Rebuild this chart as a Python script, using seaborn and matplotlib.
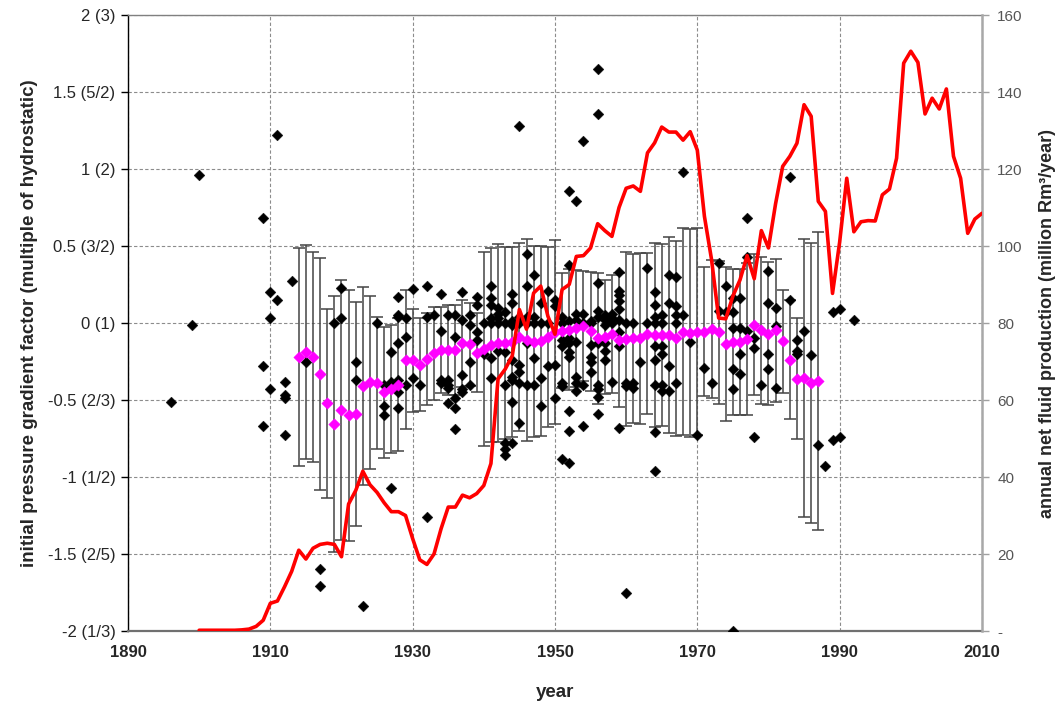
import numpy as np
import pandas as pd
import matplotlib
matplotlib.use("Agg")
import matplotlib.pyplot as plt
import seaborn as sns

# ---------------- data ----------------
prod_years = list(range(1900, 2011))
prod_values = [0.2, 0.2, 0.2, 0.2, 0.2, 0.2, 0.3, 0.5, 1.2, 2.8,
               7.2, 7.8, 11.5, 15.5, 21.0, 18.7, 21.5, 22.5, 22.8, 22.5,
               19.3, 33.0, 36.5, 41.5, 38.0, 36.0, 33.3, 31.0, 31.0, 30.0,
               24.0, 18.5, 17.3, 20.0, 26.6, 32.2, 32.2, 35.3, 34.6, 35.7,
               37.8, 43.5, 65.5, 68.0, 71.5, 83.5, 78.4, 87.8, 89.6, 81.8,
               77.1, 88.7, 90.0, 97.3, 97.5, 99.5, 105.8, 104.0, 102.5, 110.0,
               115.0, 115.6, 114.2, 124.2, 126.8, 130.9, 129.6, 129.6, 127.5, 129.7,
               124.9, 107.7, 96.5, 81.3, 81.1, 87.0, 91.2, 97.5, 91.5, 104.0,
               99.5, 111.0, 120.7, 123.3, 126.7, 136.7, 133.7, 111.6, 109.0, 87.7,
               101.0, 117.6, 103.7, 106.3, 106.6, 106.5, 113.3, 114.8, 122.8, 147.5,
               150.6, 147.7, 134.3, 138.4, 135.6, 140.8, 123.3, 117.6, 103.3, 107.0,
               108.5]

mean_years = list(range(1914, 1988))
mean_values = [-0.22, -0.19, -0.22, -0.33, -0.52, -0.655, -0.565, -0.60, -0.59, -0.41,
               -0.385, -0.39, -0.45, -0.43, -0.40, -0.238, -0.243, -0.27, -0.235, -0.197,
               -0.175, -0.175, -0.175, -0.132, -0.139, -0.193, -0.169, -0.143, -0.132, -0.128,
               -0.121, -0.093, -0.11, -0.121, -0.115, -0.09, -0.06, -0.05, -0.045, -0.035,
               -0.02, -0.055, -0.10, -0.09, -0.07, -0.11, -0.105, -0.10, -0.10, -0.07,
               -0.078, -0.078, -0.078, -0.10, -0.056, -0.063, -0.056, -0.056, -0.037, -0.061,
               -0.136, -0.123, -0.123, -0.104, -0.011, -0.048, -0.069, -0.048, -0.119, -0.238,
               -0.361, -0.357, -0.39, -0.379]
sd_values = [0.71, 0.694, 0.684, 0.754, 0.614, 0.831, 0.842, 0.814, 0.729, 0.644,
             0.56, 0.426, 0.425, 0.414, 0.43, 0.451, 0.335, 0.304, 0.30, 0.301,
             0.281, 0.292, 0.29, 0.281, 0.271, 0.256, 0.631, 0.631, 0.643, 0.624,
             0.617, 0.61, 0.655, 0.62, 0.617, 0.586, 0.597, 0.373, 0.393, 0.379,
             0.358, 0.388, 0.423, 0.369, 0.382, 0.433, 0.566, 0.547, 0.557, 0.522,
             0.595, 0.593, 0.638, 0.633, 0.671, 0.674, 0.674, 0.42, 0.448, 0.465,
             0.501, 0.473, 0.471, 0.496, 0.456, 0.477, 0.465, 0.465, 0.335, 0.386,
             0.393, 0.901, 0.907, 0.967]

obs = {
    1896: [-0.51], 1899: [-0.01], 1900: [0.96],
    1909: [0.68, -0.28, -0.67], 1910: [0.20, 0.03, -0.43], 1911: [1.22, 0.15],
    1912: [-0.38, -0.47, -0.49, -0.73], 1913: [0.27], 1915: [-0.25],
    1917: [-1.60, -1.71], 1919: [0.0], 1920: [0.23, 0.03], 1922: [-0.25, -0.37],
    1923: [-1.84], 1925: [0.0], 1926: [-0.40, -0.54, -0.60], 1927: [-0.19, -0.38, -1.07],
    1928: [0.17, 0.05, 0.04, -0.13, -0.37, -0.45, -0.55], 1929: [0.03, -0.09, -0.40],
    1930: [0.22, -0.36], 1931: [-0.40], 1932: [0.24, 0.04, -1.26], 1933: [0.05],
    1934: [0.19, -0.05, -0.37, -0.39], 1935: [0.05, -0.37, -0.40, -0.42, -0.52],
    1936: [0.05, -0.09, -0.49, -0.55, -0.69], 1937: [0.20, 0.02, -0.34, -0.43, -0.45],
    1938: [0.05, -0.01, -0.25, -0.40], 1939: [0.17, 0.12, -0.06, -0.11], 1940: [0.0, -0.2],
    1941: [0.24, 0.16, 0.12, 0.03, 0.0, -0.23, -0.36], 1942: [0.10, 0.06, 0.03, 0.0, -0.18],
    1943: [0.07, 0.0, -0.19, -0.40, -0.78, -0.82, -0.86],
    1944: [0.19, 0.13, 0.01, -0.01, -0.24, -0.35, -0.37, -0.51, -0.78],
    1945: [1.28, 0.04, 0.0, -0.27, -0.32, -0.39, -0.65],
    1946: [0.45, 0.24, 0.04, 0.0, -0.13, -0.40], 1947: [0.31, 0.04, 0.0, -0.23, -0.40],
    1948: [0.13, 0.0, -0.36, -0.54], 1949: [0.21, 0.0, -0.28], 1950: [0.15, 0.11, -0.27, -0.49],
    1951: [0.04, 0.0, -0.11, -0.15, -0.39, -0.41, -0.88],
    1952: [0.86, 0.38, 0.01, -0.10, -0.13, -0.19, -0.22, -0.57, -0.70, -0.91],
    1953: [0.79, 0.06, 0.02, -0.12, -0.35, -0.39, -0.44], 1954: [1.18, 0.06, 0.0, -0.40, -0.67],
    1955: [0.01, 0.0, -0.14, -0.22, -0.25, -0.32],
    1956: [1.65, 1.36, 0.26, 0.08, 0.04, -0.13, -0.40, -0.43, -0.48, -0.59],
    1957: [0.05, 0.02, -0.01, -0.13, -0.18, -0.24], 1958: [0.06, 0.03, 0.0, -0.38],
    1959: [0.33, 0.21, 0.18, 0.14, 0.09, 0.02, -0.06, -0.15, -0.68],
    1960: [0.0, -0.39, -0.41, -1.75], 1961: [0.0, -0.39, -0.42], 1962: [-0.25], 1963: [0.36, 0.0],
    1964: [0.20, 0.12, 0.04, 0.0, -0.15, -0.24, -0.40, -0.71, -0.96],
    1965: [0.05, 0.0, -0.15, -0.20, -0.40, -0.44], 1966: [0.31, 0.13, -0.28, -0.44],
    1967: [0.30, 0.11, 0.05, 0.0, -0.39], 1968: [0.98, 0.05], 1969: [-0.12], 1970: [-0.73],
    1971: [-0.29], 1972: [-0.39], 1973: [0.39, 0.08], 1974: [0.24, 0.07],
    1975: [0.16, 0.07, -0.03, -0.30, -0.43, -2.0], 1976: [0.16, -0.03, -0.20, -0.33],
    1977: [0.68, 0.43, -0.05], 1978: [-0.10, -0.16, -0.74], 1979: [-0.40],
    1980: [0.34, 0.13, -0.20, -0.30], 1981: [0.10, -0.02, -0.42], 1983: [0.95, 0.15],
    1984: [-0.11, -0.18, -0.20], 1985: [-0.05], 1986: [-0.21], 1987: [-0.79], 1988: [-0.93],
    1989: [0.07, -0.76], 1990: [0.09, -0.74], 1992: [0.02],
}
pt_years = [y for y, vals in obs.items() for _ in vals]
pt_values = [v for vals in obs.values() for v in vals]

left_ticks = [-2, -1.5, -1, -0.5, 0, 0.5, 1, 1.5, 2]
left_labels = ['-2 (1/3)', '-1.5 (2/5)', '-1 (1/2)', '-0.5 (2/3)', '0 (1)',
               '0.5 (3/2)', '1 (2)', '1.5 (5/2)', '2 (3)']
right_ticks = [0, 20, 40, 60, 80, 100, 120, 140, 160]
right_labels = ['-', '20', '40', '60', '80', '100', '120', '140', '160']
x_ticks = [1890, 1910, 1930, 1950, 1970, 1990, 2010]

# ---------------- plot ----------------
sns.set_style("white")
plt.rcParams['font.family'] = ['Liberation Sans', 'DejaVu Sans']

fig = plt.figure(figsize=(10.64, 7.02), dpi=100)
ax = fig.add_axes([0.1203, 0.1011, 0.8026, 0.8775])

df_pts = pd.DataFrame({'year': pt_years, 'value': pt_values})
df_mean = pd.DataFrame({'year': mean_years, 'mean': mean_values, 'sd': sd_values})
df_prod = pd.DataFrame({'year': prod_years, 'prod': prod_values})

ax.errorbar(df_mean['year'], df_mean['mean'], yerr=df_mean['sd'], fmt='none',
            ecolor='#444444', elinewidth=1.1, capsize=4, capthick=1.1, zorder=2)
sns.scatterplot(data=df_pts, x='year', y='value', ax=ax, marker='D', s=30,
                color='black', edgecolor='black', linewidth=0.3, zorder=3, legend=False)
sns.scatterplot(data=df_mean, x='year', y='mean', ax=ax, marker='D', s=34,
                color='#ff00ff', edgecolor='#ff00ff', linewidth=0.3, zorder=4, legend=False)

ax.set_xlim(1890, 2010)
ax.set_ylim(-2, 2)
ax.set_xticks(x_ticks)
ax.set_xticklabels([str(t) for t in x_ticks], fontsize=12, fontweight='bold')
ax.set_yticks(left_ticks)
ax.set_yticklabels(left_labels, fontsize=12)
ax.grid(True, color='#8c8c8c', linestyle=(0, (3, 2)), linewidth=0.8)
ax.set_axisbelow(True)
ax.tick_params(axis='y', direction='out', length=5, width=1, color='black', pad=4)
ax.tick_params(axis='x', direction='out', length=5, width=1, color='#808080', pad=5)
ax.set_xlabel('year', fontsize=13.5, fontweight='bold', labelpad=17)
ax.set_ylabel('initial pressure gradient factor (multiple of hydrostatic)',
              fontsize=13.5, fontweight='bold', labelpad=7)
ax.spines['left'].set_color('black'); ax.spines['left'].set_linewidth(1.0)
ax.spines['bottom'].set_color('#707070'); ax.spines['bottom'].set_linewidth(1.6)
ax.spines['top'].set_color('#808080'); ax.spines['top'].set_linewidth(1.0)
ax.spines['right'].set_visible(False)

ax2 = ax.twinx()
sns.lineplot(data=df_prod, x='year', y='prod', ax=ax2, color='#ff0000',
             linewidth=2.6, zorder=5, legend=False)
ax2.set_ylim(0, 160)
ax2.set_xlim(1890, 2010)
ax2.set_yticks(right_ticks)
ax2.set_yticklabels(right_labels, fontsize=11, color='#555555')
ax2.tick_params(axis='y', direction='out', length=5, width=1, color='#a0a0a0', pad=6)
ax2.set_ylabel('annual net fluid production (million Rm³/year)', fontsize=13,
               fontweight='bold', labelpad=12)
ax2.spines['right'].set_color('#a8a8a8'); ax2.spines['right'].set_linewidth(1.8)
for s in ['top', 'left', 'bottom']:
    ax2.spines[s].set_visible(False)
ax2.grid(False)
ax2.set_xlabel('')

fig.savefig('out.png', dpi=100)
